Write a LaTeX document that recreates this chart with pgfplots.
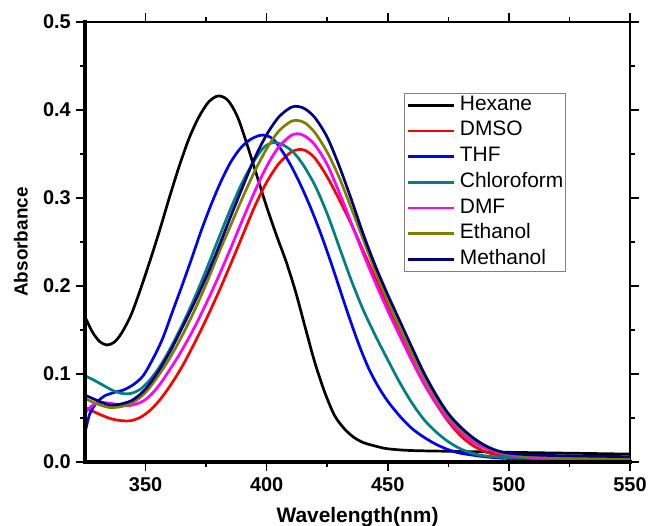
\documentclass[border=0pt]{standalone}
\usepackage{pgfplots}
\pgfplotsset{compat=1.18}
\usepackage{fontspec}
\setmainfont{Liberation Sans}
\definecolor{cHex}{RGB}{0,0,0}
\definecolor{cDMSO}{RGB}{255,0,0}
\definecolor{cTHF}{RGB}{0,0,255}
\definecolor{cChl}{RGB}{0,128,128}
\definecolor{cDMF}{RGB}{255,0,255}
\definecolor{cEth}{RGB}{128,128,0}
\definecolor{cMeth}{RGB}{0,0,128}
\begin{document}
\begin{tikzpicture}
\begin{axis}[
  width=545bp, height=440bp, scale only axis,
  xmin=325, xmax=550, ymin=0, ymax=0.5,
  xtick={350,400,450,500,550},
  ytick={0,0.1,0.2,0.3,0.4,0.5},
  minor x tick num=1, minor y tick num=1,
  tick align=outside,
  major tick length=9bp, minor tick length=5bp,
  every tick/.style={line width=1.5bp, black},
  axis line style={line width=1.2bp},
  /pgf/number format/assume math mode=true,
  yticklabel style={font=\bfseries\fontsize{20}{20}\selectfont, /pgf/number format/fixed, /pgf/number format/fixed zerofill, /pgf/number format/precision=1, inner sep=0bp, xshift=-5bp},
  xticklabel style={font=\bfseries\fontsize{20}{20}\selectfont, inner sep=0bp, yshift=-6bp},
  xlabel={Wavelength(nm)}, ylabel={Absorbance},
  xlabel style={font=\bfseries\fontsize{21}{21}\selectfont, at={(axis description cs:0.5,0)}, anchor=north, inner sep=0bp, yshift=-45bp},
  ylabel style={font=\bfseries\fontsize{19}{19}\selectfont, at={(axis description cs:-0.1046,0.5)}, anchor=south, inner sep=0bp},
  legend cell align=left,
  legend image code/.code={\draw[#1] (0bp,0bp) -- (46bp,0bp);},
  legend style={at={(rel axis cs:0.585,0.839)}, anchor=north west, draw=gray, line width=0.8bp,
    font=\fontsize{21}{22}\selectfont, inner xsep=2bp, inner ysep=3bp,
    nodes={inner sep=0bp, text height=14bp, text depth=4bp}, row sep=7.7bp, column sep=5bp},
  every axis plot/.append style={line width=2.7bp, smooth},
  clip=true,
]
\addplot[cHex] coordinates {
(325,0.165)(328,0.148)(331,0.137)(334,0.133)(337,0.136)(340,0.146)(344,0.167)(348,0.197)
(352,0.230)(356,0.265)(360,0.302)(364,0.337)(368,0.368)(372,0.392)(376,0.409)(380,0.416)
(384,0.411)(388,0.392)(392,0.360)(396,0.325)(400,0.290)(404,0.258)(408,0.228)(412,0.193)
(416,0.152)(420,0.112)(424,0.079)(428,0.053)(432,0.038)(436,0.028)(440,0.022)(445,0.018)
(450,0.015)(460,0.013)(480,0.012)(500,0.011)(525,0.010)(550,0.009)};
\addlegendentry{Hexane}
\addplot[cDMSO] coordinates {
(325,0.062)(328,0.058)(332,0.053)(336,0.049)(340,0.047)(344,0.047)(348,0.051)(352,0.059)
(356,0.071)(360,0.086)(365,0.108)(370,0.134)(375,0.162)(380,0.192)(385,0.224)(390,0.257)
(395,0.290)(400,0.318)(405,0.339)(410,0.352)(413,0.355)(416,0.354)(420,0.345)(425,0.324)
(430,0.298)(435,0.270)(440,0.239)(445,0.208)(450,0.177)(455,0.146)(460,0.116)(465,0.089)
(470,0.066)(475,0.046)(480,0.030)(485,0.019)(490,0.012)(495,0.008)(500,0.006)(510,0.004)
(525,0.003)(550,0.003)};
\addlegendentry{DMSO}
\addplot[cTHF] coordinates {
(325,0.033)(327,0.055)(330,0.068)(333,0.075)(337,0.079)(341,0.082)(345,0.088)(349,0.098)
(353,0.117)(357,0.140)(361,0.170)(365,0.200)(369,0.231)(373,0.263)(377,0.292)(381,0.318)
(385,0.340)(389,0.356)(393,0.366)(397,0.371)(400,0.371)(403,0.366)(406,0.355)(410,0.337)
(414,0.315)(418,0.290)(422,0.262)(426,0.231)(430,0.198)(434,0.165)(438,0.134)(442,0.107)
(446,0.086)(450,0.069)(455,0.052)(460,0.038)(465,0.028)(470,0.020)(475,0.014)(480,0.010)
(490,0.006)(500,0.004)(525,0.003)(550,0.003)};
\addlegendentry{THF}
\addplot[cChl] coordinates {
(325,0.098)(328,0.094)(332,0.088)(336,0.082)(340,0.078)(344,0.078)(348,0.083)(352,0.094)
(356,0.109)(360,0.128)(365,0.155)(370,0.185)(375,0.218)(380,0.253)(385,0.287)(390,0.318)
(395,0.343)(399,0.358)(403,0.363)(407,0.360)(411,0.352)(415,0.338)(420,0.314)(425,0.282)
(430,0.244)(435,0.206)(440,0.172)(445,0.143)(450,0.116)(455,0.090)(460,0.067)(465,0.048)
(470,0.034)(475,0.023)(480,0.015)(485,0.010)(490,0.007)(500,0.005)(525,0.003)(550,0.003)};
\addlegendentry{Chloroform}
\addplot[cDMF] coordinates {
(325,0.055)(327,0.062)(330,0.067)(335,0.067)(340,0.064)(345,0.065)(350,0.071)(355,0.085)
(360,0.105)(365,0.127)(370,0.152)(375,0.180)(380,0.210)(385,0.242)(390,0.275)(395,0.307)
(400,0.336)(405,0.358)(410,0.371)(413,0.373)(416,0.370)(420,0.360)(425,0.338)(430,0.306)
(435,0.271)(440,0.236)(445,0.203)(450,0.172)(455,0.143)(460,0.115)(465,0.089)(470,0.067)
(475,0.048)(480,0.034)(485,0.023)(490,0.016)(495,0.011)(500,0.008)(510,0.005)(525,0.004)
(550,0.004)};
\addlegendentry{DMF}
\addplot[cEth] coordinates {
(325,0.072)(330,0.066)(335,0.062)(340,0.063)(345,0.068)(350,0.079)(355,0.097)(360,0.118)
(365,0.143)(370,0.171)(375,0.202)(380,0.236)(385,0.268)(390,0.300)(395,0.330)(400,0.356)
(405,0.376)(410,0.387)(413,0.388)(416,0.385)(420,0.374)(425,0.352)(430,0.323)(435,0.288)
(440,0.252)(445,0.216)(450,0.183)(455,0.152)(460,0.123)(465,0.096)(470,0.072)(475,0.052)
(480,0.037)(485,0.026)(490,0.018)(495,0.012)(500,0.009)(510,0.006)(525,0.005)(550,0.005)};
\addlegendentry{Ethanol}
\addplot[cMeth] coordinates {
(325,0.076)(330,0.070)(335,0.065)(340,0.066)(345,0.071)(350,0.083)(355,0.102)(360,0.125)
(365,0.152)(370,0.180)(375,0.210)(380,0.243)(385,0.278)(390,0.312)(395,0.345)(400,0.372)
(405,0.392)(410,0.403)(413,0.404)(416,0.401)(420,0.391)(425,0.369)(430,0.336)(435,0.298)
(440,0.258)(445,0.222)(450,0.190)(455,0.160)(460,0.130)(465,0.101)(470,0.076)(475,0.055)
(480,0.040)(485,0.028)(490,0.019)(495,0.013)(500,0.010)(510,0.008)(525,0.007)(550,0.006)};
\addlegendentry{Methanol}
\end{axis}
\draw[line width=3bp, line cap=rect] (0,462bp-22bp) -- (0,0) -- (545bp,0);
\pgfresetboundingbox
\path[use as bounding box] (-85bp,-64bp) rectangle (563bp,462bp);
\end{tikzpicture}
\end{document}
